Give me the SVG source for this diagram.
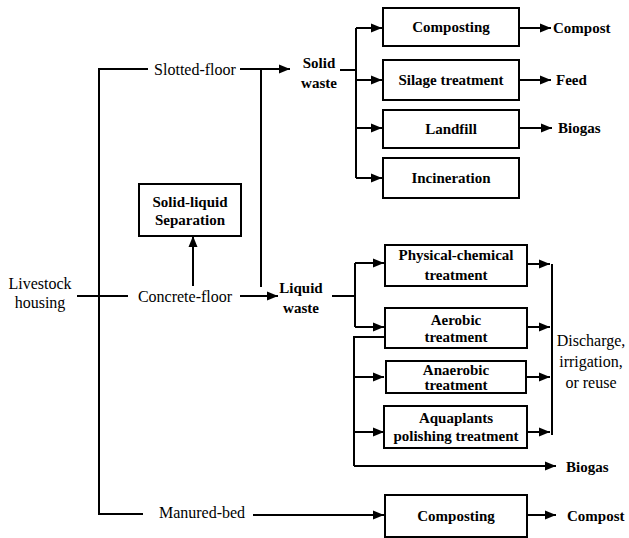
<svg xmlns="http://www.w3.org/2000/svg" width="629" height="538" viewBox="0 0 629 538">
<defs>
<marker id="ah" markerWidth="12" markerHeight="10" refX="11" refY="5" orient="auto" markerUnits="userSpaceOnUse">
<path d="M0,0.5 L11,5 L0,9.5 Z" fill="#000"/>
</marker>
<style>
.c{fill:none;stroke:#000;stroke-width:2}
.a{fill:none;stroke:#000;stroke-width:2;marker-end:url(#ah)}
.b{fill:#fff;stroke:#000;stroke-width:2}
.t{font-family:"Liberation Serif","Times New Roman",serif;font-size:16px;fill:#000;text-anchor:middle;dominant-baseline:central}
.bt{font-family:"Liberation Serif","Times New Roman",serif;font-size:15px;font-weight:bold;fill:#000;text-anchor:middle;dominant-baseline:central}
.s{text-anchor:start}
</style>
</defs>
<rect width="629" height="538" fill="#fff"/>
<g id="connectors">
<path class="c" d="M148,69 H99 V514 H143"/>
<path class="c" d="M77,296 H128"/>
<path class="a" d="M240,69 H290"/>
<path class="c" d="M261,69 V287"/>
<path class="a" d="M240,296 H278"/>
<path class="a" d="M193,286 V236"/>
<path class="a" d="M253,515 H384"/>
<path class="c" d="M340,70 H356"/>
<path class="c" d="M356,28 V178"/>
<path class="a" d="M356,28 H382"/>
<path class="a" d="M356,80 H382"/>
<path class="a" d="M356,128 H382"/>
<path class="a" d="M356,178 H382"/>
<path class="a" d="M519,28 H551"/>
<path class="a" d="M519,80 H551"/>
<path class="a" d="M519,128 H552"/>
<path class="c" d="M332,296 H355"/>
<path class="c" d="M355,263 V327"/>
<path class="a" d="M355,263 H384"/>
<path class="a" d="M355,327 H384"/>
<path class="c" d="M385,337 H354 V466"/>
<path class="a" d="M354,377 H384"/>
<path class="a" d="M354,432 H384"/>
<path class="a" d="M354,466 H556"/>
<path class="a" d="M527,264 H550"/>
<path class="a" d="M527,327 H550"/>
<path class="a" d="M527,377 H550"/>
<path class="a" d="M527,432 H550"/>
<path class="c" d="M552,264 V435"/>
<path class="a" d="M527,515 H556"/>
</g>
<g id="livestock"><text class="t" x="40" y="283">Livestock</text><text class="t" x="40" y="302">housing</text></g>
<g id="slotted"><text class="t" x="195" y="69">Slotted-floor</text></g>
<g id="concrete"><text class="t" x="185" y="296">Concrete-floor</text></g>
<g id="manured"><text class="t" x="202" y="512">Manured-bed</text></g>
<g id="separation"><rect class="b" x="139" y="184" width="102" height="52"/><text class="bt" x="190" y="202">Solid-liquid</text><text class="bt" x="190" y="220">Separation</text></g>
<g id="solid-waste"><text class="bt" x="319" y="63">Solid</text><text class="bt" x="319" y="83">waste</text></g>
<g id="liquid-waste"><text class="bt" x="301" y="288">Liquid</text><text class="bt" x="301" y="308">waste</text></g>
<g id="composting1"><rect class="b" x="383" y="8" width="136" height="38"/><text class="bt" x="451" y="27">Composting</text></g>
<g id="silage"><rect class="b" x="383" y="60" width="136" height="40"/><text class="bt" x="451" y="80">Silage  treatment</text></g>
<g id="landfill"><rect class="b" x="383" y="110" width="136" height="38"/><text class="bt" x="451" y="129">Landfill</text></g>
<g id="incineration"><rect class="b" x="383" y="158" width="136" height="40"/><text class="bt" x="451" y="178">Incineration</text></g>
<g id="compost1"><text class="bt s" x="553" y="28">Compost</text></g>
<g id="feed"><text class="bt s" x="556" y="80">Feed</text></g>
<g id="biogas1"><text class="bt s" x="558" y="128">Biogas</text></g>
<g id="physchem"><rect class="b" x="385" y="245" width="142" height="41"/><text class="bt" x="456" y="255">Physical-chemical</text><text class="bt" x="456" y="275">treatment</text></g>
<g id="aerobic"><rect class="b" x="385" y="308" width="142" height="40"/><text class="bt" x="456" y="320">Aerobic</text><text class="bt" x="456" y="337">treatment</text></g>
<g id="anaerobic"><rect class="b" x="386" y="361" width="140" height="32"/><text class="bt" x="456" y="370">Anaerobic</text><text class="bt" x="456" y="385">treatment</text></g>
<g id="aquaplants"><rect class="b" x="384" y="406" width="143" height="42"/><text class="bt" x="456" y="418">Aquaplants</text><text class="bt" x="456" y="436">polishing treatment</text></g>
<g id="discharge"><text class="t" x="591" y="340">Discharge,</text><text class="t" x="591" y="361">irrigation,</text><text class="t" x="591" y="382">or reuse</text></g>
<g id="biogas2"><text class="bt s" x="566" y="467">Biogas</text></g>
<g id="composting2"><rect class="b" x="385" y="495" width="142" height="42"/><text class="bt" x="456" y="516">Composting</text></g>
<g id="compost2"><text class="bt s" x="567" y="516">Compost</text></g>
</svg>
